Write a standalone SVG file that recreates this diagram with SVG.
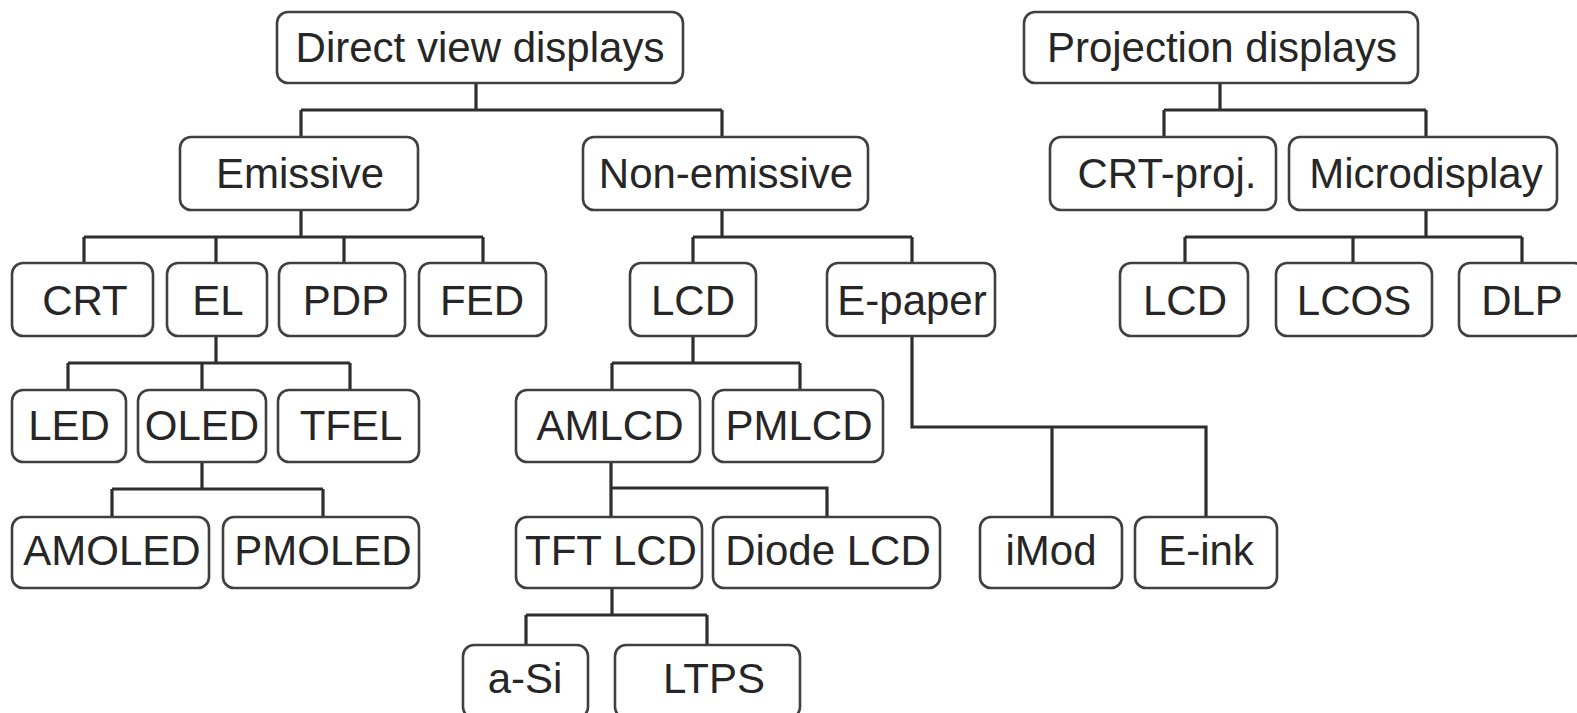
<svg xmlns="http://www.w3.org/2000/svg" width="1577" height="713" viewBox="0 0 1577 713">
<style>
.b{fill:#fff;stroke:#404040;stroke-width:2.6}
.t{font-family:"Liberation Sans",Arial,sans-serif;font-size:42px;fill:#262626;text-anchor:middle}
.c{fill:none;stroke:#2e2e2e;stroke-width:3.2}
</style>
<rect width="1577" height="713" fill="#fff"/>
<g id="connectors" class="c">
<path d="M476 83V110M301 110H722M301 110V137M722 110V137"/>
<path d="M1220 83V110M1164 110H1426M1164 110V137M1426 110V137"/>
<path d="M301 210V237M84 237H483M84 237V263M216 237V263M344 237V263M483 237V263"/>
<path d="M722 210V237M693 237H912M693 237V263M912 237V263"/>
<path d="M1426 210V237M1185 237H1522M1185 237V263M1353 237V263M1522 237V263"/>
<path d="M216 336V363M68 363H350M68 363V390M202 363V390M350 363V390"/>
<path d="M693 336V363M612 363H800M612 363V390M800 363V390"/>
<path d="M912 336V427H1206V517M1052 427V517"/>
<path d="M202 462V489M112 489H323M112 489V517M323 489V517"/>
<path d="M611 462V517M611 488H827V517"/>
<path d="M612 588V615M526 615H707M526 615V645M707 615V645"/>
</g>
<g id="n-dvd"><rect class="b" x="277" y="12" width="406" height="71" rx="11"/><text class="t" x="480" y="62">Direct view displays</text></g>
<g id="n-proj"><rect class="b" x="1024" y="12" width="394" height="71" rx="11"/><text class="t" x="1222" y="62">Projection displays</text></g>
<g id="n-emissive"><rect class="b" x="180" y="137" width="238" height="73" rx="11"/><text class="t" x="300" y="188">Emissive</text></g>
<g id="n-nonemissive"><rect class="b" x="583" y="137" width="285" height="73" rx="11"/><text class="t" x="726" y="188">Non-emissive</text></g>
<g id="n-crtproj"><rect class="b" x="1050" y="137" width="226" height="73" rx="11"/><text class="t" x="1167" y="188">CRT-proj.</text></g>
<g id="n-micro"><rect class="b" x="1289" y="137" width="268" height="73" rx="11"/><text class="t" x="1426" y="188">Microdisplay</text></g>
<g id="n-crt"><rect class="b" x="12" y="263" width="141" height="73" rx="11"/><text class="t" x="85" y="315">CRT</text></g>
<g id="n-el"><rect class="b" x="167" y="263" width="100" height="73" rx="11"/><text class="t" x="218" y="315">EL</text></g>
<g id="n-pdp"><rect class="b" x="279" y="263" width="126" height="73" rx="11"/><text class="t" x="346" y="315">PDP</text></g>
<g id="n-fed"><rect class="b" x="419" y="263" width="127" height="73" rx="11"/><text class="t" x="482" y="315">FED</text></g>
<g id="n-lcd"><rect class="b" x="630" y="263" width="126" height="73" rx="11"/><text class="t" x="693" y="315">LCD</text></g>
<g id="n-epaper"><rect class="b" x="827" y="263" width="168" height="73" rx="11"/><text class="t" x="912" y="315">E-paper</text></g>
<g id="n-lcd2"><rect class="b" x="1120" y="263" width="128" height="73" rx="11"/><text class="t" x="1185" y="315">LCD</text></g>
<g id="n-lcos"><rect class="b" x="1276" y="263" width="156" height="73" rx="11"/><text class="t" x="1354" y="315">LCOS</text></g>
<g id="n-dlp"><rect class="b" x="1459" y="263" width="126" height="73" rx="11"/><text class="t" x="1522" y="315">DLP</text></g>
<g id="n-led"><rect class="b" x="12" y="390" width="114" height="72" rx="11"/><text class="t" x="69" y="440">LED</text></g>
<g id="n-oled"><rect class="b" x="138" y="390" width="128" height="72" rx="11"/><text class="t" x="202" y="440">OLED</text></g>
<g id="n-tfel"><rect class="b" x="278" y="390" width="141" height="72" rx="11"/><text class="t" x="351" y="440">TFEL</text></g>
<g id="n-amlcd"><rect class="b" x="516" y="390" width="184" height="72" rx="11"/><text class="t" x="610" y="440">AMLCD</text></g>
<g id="n-pmlcd"><rect class="b" x="713" y="390" width="170" height="72" rx="11"/><text class="t" x="799" y="440">PMLCD</text></g>
<g id="n-amoled"><rect class="b" x="12" y="517" width="197" height="71" rx="11"/><text class="t" x="112" y="565">AMOLED</text></g>
<g id="n-pmoled"><rect class="b" x="223" y="517" width="196" height="71" rx="11"/><text class="t" x="323" y="565">PMOLED</text></g>
<g id="n-tftlcd"><rect class="b" x="516" y="517" width="186" height="71" rx="11"/><text class="t" x="611" y="565">TFT LCD</text></g>
<g id="n-diodelcd"><rect class="b" x="713" y="517" width="227" height="71" rx="11"/><text class="t" x="828" y="565">Diode LCD</text></g>
<g id="n-imod"><rect class="b" x="980" y="517" width="142" height="71" rx="11"/><text class="t" x="1051" y="565">iMod</text></g>
<g id="n-eink"><rect class="b" x="1135" y="517" width="142" height="71" rx="11"/><text class="t" x="1206" y="565">E-ink</text></g>
<g id="n-asi"><rect class="b" x="463" y="645" width="125" height="73" rx="11"/><text class="t" x="525" y="693">a-Si</text></g>
<g id="n-ltps"><rect class="b" x="615" y="645" width="185" height="73" rx="11"/><text class="t" x="714" y="693">LTPS</text></g>
</svg>
